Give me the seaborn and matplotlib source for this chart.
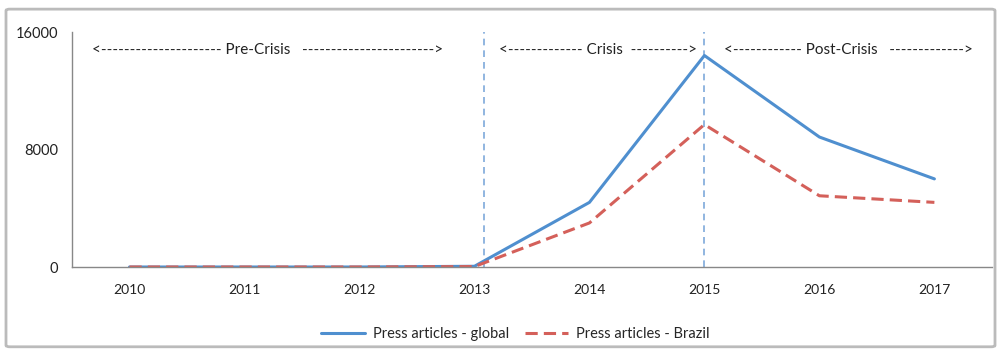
import pandas as pd
import matplotlib.pyplot as plt
import seaborn as sns
from matplotlib.patches import FancyBboxPatch

# data
years = [2010, 2011, 2012, 2013, 2014, 2015, 2016, 2017]
press_global = [0, 0, 0, 50, 4400, 14400, 8850, 6000]
press_brazil = [0, 0, 0, 30, 3000, 9700, 4850, 4400]
series_names = ['Press articles - global', 'Press articles - Brazil']
phase_breaks = [2013.08, 2015]
phase_labels = ['<--------------------- Pre-Crisis   ----------------------->',
                '<------------- Crisis  ---------->',
                '<------------ Post-Crisis   ------------->']
phase_starts = [2009.67, 2013.21, 2015.17]
y_ticks = [0, 8000, 16000]

df = pd.DataFrame({
    'Year': years * 2,
    'Articles': press_global + press_brazil,
    'Series': [series_names[0]] * len(years) + [series_names[1]] * len(years),
})

sns.set_style('white')
plt.rcParams['font.family'] = ['Lato', 'DejaVu Sans']

fig = plt.figure(figsize=(10.01, 3.51), dpi=100)
ax = fig.add_axes([0.0719, 0.2393, 0.919, 0.6695])

palette = {series_names[0]: '#4F8FCF', series_names[1]: '#D4605A'}
dashes = {series_names[0]: '', series_names[1]: (4, 2)}
sns.lineplot(data=df, x='Year', y='Articles', hue='Series', style='Series',
             palette=palette, dashes=dashes, linewidth=2.2, ax=ax)

# phase separators
for b in phase_breaks:
    ax.axvline(b, color='#7EA9DA', linestyle=(0, (4, 3)), linewidth=1.2, zorder=0)

for lab, xs in zip(phase_labels, phase_starts):
    ax.text(xs, 14800, lab, ha='left', va='center', fontsize=11, color='#222222')

ax.set_xlim(2009.5, 2017.5)
ax.set_ylim(0, 16000)
ax.set_xticks(years)
ax.set_xticklabels([str(y) for y in years], fontsize=10, color='#222222')
ax.set_yticks(y_ticks)
ax.set_yticklabels([str(v) for v in y_ticks], fontsize=10.5, color='#222222')
ax.tick_params(axis='x', length=0, pad=12)
ax.tick_params(axis='y', length=0, pad=10)
ax.set_xlabel('')
ax.set_ylabel('')

for s in ['top', 'right']:
    ax.spines[s].set_visible(False)
for s in ['left', 'bottom']:
    ax.spines[s].set_color('#888888')
    ax.spines[s].set_linewidth(1.0)

leg = ax.legend(loc='upper center', bbox_to_anchor=(0.482, -0.2), ncol=2,
                frameon=False, fontsize=10.5, handlelength=3.0, handletextpad=0.5,
                columnspacing=1.1)

frame = FancyBboxPatch((0.006, 0.012), 0.988, 0.962, boxstyle='round,pad=0,rounding_size=0.004',
                       transform=fig.transFigure, fill=False, edgecolor='#BBBBBB', linewidth=2)
fig.patches.append(frame)

fig.savefig('out.png', dpi=100)
